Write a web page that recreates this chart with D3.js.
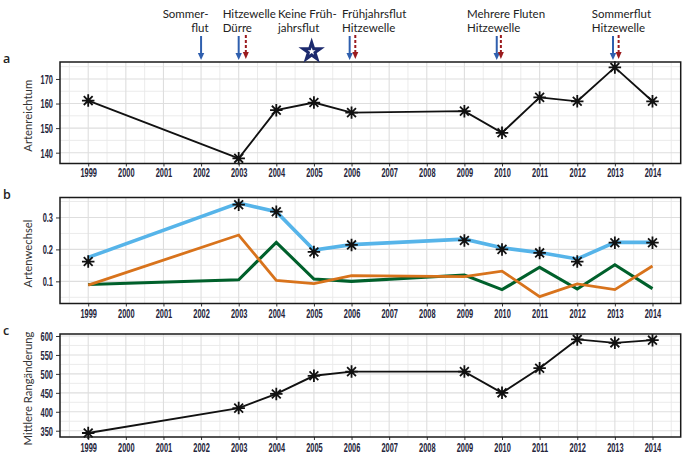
<!DOCTYPE html>
<html><head><meta charset="utf-8">
<script src="https://cdn.jsdelivr.net/npm/d3@7"></script>
<style>body{margin:0;background:#fff}svg{display:block}</style>
</head><body><svg id="chart" width="685" height="456"></svg>
<script>
// ---------- data ----------
const years = [1999, 2003, 2004, 2005, 2006, 2009, 2010, 2011, 2012, 2013, 2014];
const richness = [161.2, 137.7, 157.3, 160.4, 156.3, 156.9, 148.1, 162.5, 160.9, 174.7, 160.9];
const turnoverTotal = [0.175, 0.345, 0.318, 0.198, 0.215, 0.232, 0.205, 0.19, 0.17, 0.222, 0.222];
const turnoverTotalMarks = [0.162, 0.34, 0.318, 0.192, 0.214, 0.228, 0.2, 0.189, 0.162, 0.221, 0.221];
const turnoverGreen = [0.09, 0.105, 0.222, 0.107, 0.1, 0.12, 0.074, 0.144, 0.076, 0.152, 0.077];
const turnoverOrange = [0.088, 0.245, 0.103, 0.093, 0.118, 0.115, 0.132, 0.052, 0.092, 0.074, 0.148];
const rankChange = [344, 409.7, 447, 495, 506, 506, 450, 515, 591, 582, 589];
const xTickYears = [1999,2000,2001,2002,2003,2004,2005,2006,2007,2008,2009,2010,2011,2012,2013,2014];
const yTicksA = [140, 150, 160, 170];
const yTicksB = [0.1, 0.2, 0.3];
const yTicksC = [350, 400, 450, 500, 550, 600];
const floodArrowYears = [2002, 2003, 2005.95, 2009.86, 2012.95];
const heatArrowYears = [2003.19, 2006.1, 2009.97, 2013.1];
const noFloodStarYears = [2004.94];
const eventLabelYears = [2002, 2003, 2005, 2006, 2010, 2013];
const eventLabels = [["Sommer-","flut"],["Hitzewelle","Dürre"],["Keine Früh-","jahrsflut"],["Frühjahrsflut","Hitzewelle"],["Mehrere Fluten","Hitzewelle"],["Sommerflut","Hitzewelle"]];
const panelTitles = ["Artenreichtum", "Artenwechsel", "Mittlere Rangänderung"];
const panelLetters = ["a", "b", "c"];

// ---------- layout ----------
const svg = d3.select("#chart");
const x = d3.scaleLinear().domain([1998.25, 2014.75]).range([60, 680.7]);
const labelLayout = [{dx:7.5, anchor:"end"},{dx:-16, anchor:"start"},{dx:-36, anchor:"start"},{dx:-9.5, anchor:"start"},{dx:-35, anchor:"start"},{dx:-23, anchor:"start"}];

const panels = [
  {top:62, bottom:163.5, domain:[135.6, 176.9], ticks:yTicksA, minor:[135,145,155,165,175], fmt:d3.format("d"), xpad:0.5},
  {top:197.5, bottom:303.5, domain:[0.0306, 0.3625], ticks:yTicksB, minor:[0.05,0.15,0.25,0.35], fmt:d3.format(".1f"), xpad:2},
  {top:334, bottom:437, domain:[333.4, 605.3], ticks:yTicksC, minor:[375,425,475,525,575], fmt:d3.format("d"), xpad:2}
];

const asterisk = { draw(ctx, size) {
  const r = Math.sqrt(size) / 2, d = r * Math.SQRT1_2;
  ctx.moveTo(0, -r); ctx.lineTo(0, r);
  ctx.moveTo(-r, 0); ctx.lineTo(r, 0);
  ctx.moveTo(-d, -d); ctx.lineTo(d, d);
  ctx.moveTo(-d, d); ctx.lineTo(d, -d);
}};

panels.forEach((p, i) => {
  p.y = d3.scaleLinear().domain(p.domain).range([p.bottom, p.top]);
  const g = svg.append("g");
  const [x0, x1] = x.range();
  // grid
  const minorX = d3.range(1998.5, 2015, 1);
  g.selectAll(".mvx").data(minorX).join("line")
    .attr("x1", d => x(d)).attr("x2", d => x(d)).attr("y1", p.top).attr("y2", p.bottom)
    .attr("stroke", "#e9e9e9").attr("stroke-width", 0.9);
  g.selectAll(".mhy").data(p.minor.filter(v => v > p.domain[0] && v < p.domain[1])).join("line")
    .attr("x1", x0).attr("x2", x1).attr("y1", d => p.y(d)).attr("y2", d => p.y(d))
    .attr("stroke", "#e9e9e9").attr("stroke-width", 0.9);
  g.selectAll(".gvx").data(xTickYears).join("line")
    .attr("x1", d => x(d)).attr("x2", d => x(d)).attr("y1", p.top).attr("y2", p.bottom)
    .attr("stroke", "#dedede").attr("stroke-width", 1.1);
  g.selectAll(".ghy").data(p.ticks).join("line")
    .attr("x1", x0).attr("x2", x1).attr("y1", d => p.y(d)).attr("y2", d => p.y(d))
    .attr("stroke", "#dedede").attr("stroke-width", 1.1);

  // axes
  const ya = g.append("g").attr("transform", `translate(${x0},0)`)
    .call(d3.axisLeft(p.y).tickValues(p.ticks).tickFormat(p.fmt).tickSize(4).tickPadding(2));
  ya.select(".domain").remove();
  ya.selectAll("line").attr("stroke", "#333");
  ya.selectAll("text").attr("x", null).attr("dy", "0.36em")
    .attr("transform", "translate(-7,0) scale(0.62,1)")
    .attr("fill", "#24243a").style("font-family", "'Liberation Sans', Arial, sans-serif")
    .style("font-weight", "bold").style("font-size", "12px");

  const xa = g.append("g").attr("transform", `translate(0,${p.bottom})`)
    .call(d3.axisBottom(x).tickValues(xTickYears).tickFormat(d3.format("d")).tickSize(3).tickPadding(p.xpad));
  xa.select(".domain").remove();
  xa.selectAll("line").attr("stroke", "#333");
  xa.selectAll("text").attr("transform", "scale(0.55,1)")
    .attr("fill", "#24243a").style("font-family", "'Liberation Sans', Arial, sans-serif")
    .style("font-weight", "bold").style("font-size", "13.5px");

  // titles
  g.append("text").attr("transform", `translate(28,${(p.top + p.bottom) / 2 + 3}) rotate(-90)`)
    .attr("text-anchor", "middle").attr("dy", "0.36em")
    .style("font-family", "Lato, 'Open Sans', sans-serif").style("font-size", "11.3px").attr("fill", "#333")
    .text(panelTitles[i]);
  g.append("text").attr("x", 3).attr("y", p.top).attr("dy", "0.1em")
    .style("font-family", "'Open Sans', sans-serif").style("font-weight", "600").style("font-size", "12.5px").attr("fill", "#222")
    .text(panelLetters[i]);
  p.g = g;
});

// ---------- marks ----------
const line = (yS, vals) => d3.line().x((d, k) => x(years[k])).y(d => yS(d))(vals);
const markers = (g, yS, vals) => g.selectAll(null).data(vals).join("path")
  .attr("transform", (d, k) => `translate(${x(years[k])},${yS(d)})`)
  .attr("d", d3.symbol().type(asterisk).size(156))
  .attr("fill", "none").attr("stroke", "#111").attr("stroke-width", 1.8);

// panel a
const pa = panels[0];
pa.g.append("path").attr("d", line(pa.y, richness)).attr("fill", "none").attr("stroke", "#111").attr("stroke-width", 1.9);
markers(pa.g, pa.y, richness);

// panel b
const pb = panels[1];
pb.g.append("path").attr("d", line(pb.y, turnoverGreen)).attr("fill", "none").attr("stroke", "#00602B").attr("stroke-width", 3.1);
pb.g.append("path").attr("d", line(pb.y, turnoverOrange)).attr("fill", "none").attr("stroke", "#D8731C").attr("stroke-width", 2.8);
pb.g.append("path").attr("d", line(pb.y, turnoverTotal)).attr("fill", "none").attr("stroke", "#56B4E9").attr("stroke-width", 3.6);
markers(pb.g, pb.y, turnoverTotalMarks);

// panel c
const pc = panels[2];
pc.g.append("path").attr("d", line(pc.y, rankChange)).attr("fill", "none").attr("stroke", "#111").attr("stroke-width", 1.9);
markers(pc.g, pc.y, rankChange);

// borders
panels.forEach(p => {
  p.g.append("rect").attr("x", x.range()[0]).attr("y", p.top)
    .attr("width", x.range()[1] - x.range()[0]).attr("height", p.bottom - p.top)
    .attr("fill", "none").attr("stroke", "#1a1a1a").attr("stroke-width", 1.5);
});

// ---------- event annotations ----------
const ev = svg.append("g");
floodArrowYears.forEach(yr => {
  const cx = x(yr);
  ev.append("line").attr("x1", cx).attr("x2", cx).attr("y1", 36).attr("y2", 54)
    .attr("stroke", "#2F5FAE").attr("stroke-width", 2);
  ev.append("path").attr("d", `M${cx - 3.2},53 L${cx + 3.2},53 L${cx},60 Z`).attr("fill", "#2F5FAE");
});
heatArrowYears.forEach(yr => {
  const cx = x(yr);
  ev.append("line").attr("x1", cx).attr("x2", cx).attr("y1", 35).attr("y2", 52)
    .attr("stroke", "#9B1B1E").attr("stroke-width", 2).attr("stroke-dasharray", "3,2");
  ev.append("path").attr("d", `M${cx - 3},52 L${cx + 3},52 L${cx},59 Z`).attr("fill", "#9B1B1E");
});
noFloodStarYears.forEach(yr => {
  ev.append("path").attr("transform", `translate(${x(yr)},51.5)`)
    .attr("d", d3.symbol().type(d3.symbolStar).size(92))
    .attr("fill", "#fff").attr("stroke", "#1C2A6E").attr("stroke-width", 3).attr("stroke-linejoin", "miter");
});
eventLabels.forEach((lines, i) => {
  const L = labelLayout[i];
  const t = ev.append("text").attr("text-anchor", L.anchor)
    .style("font-family", "Lato, 'Open Sans', sans-serif").style("font-size", "11.5px").attr("fill", "#222");
  lines.forEach((s, j) => t.append("tspan").attr("x", x(eventLabelYears[i]) + L.dx).attr("y", 17.5 + j * 14).text(s));
});
</script></body></html>
